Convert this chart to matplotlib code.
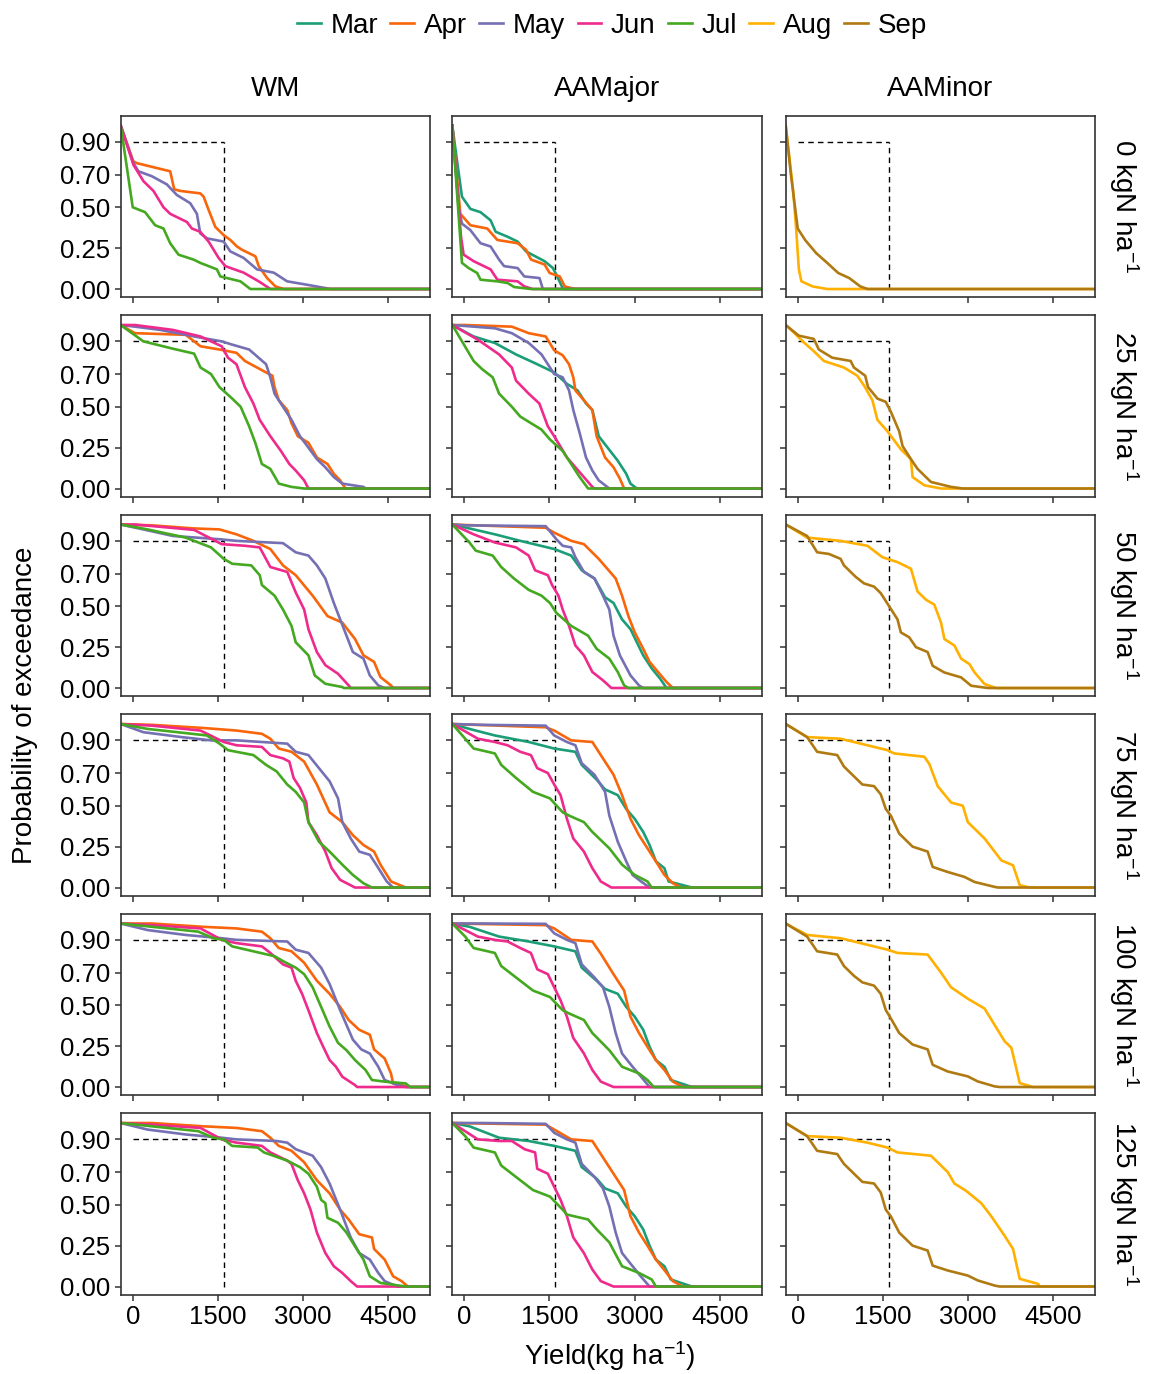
import matplotlib
matplotlib.use('Agg')
import matplotlib.pyplot as plt
from matplotlib.lines import Line2D

plt.rcParams['font.family'] = ['Liberation Sans', 'DejaVu Sans']
plt.rcParams['mathtext.fontset'] = 'custom'
plt.rcParams['mathtext.rm'] = 'Liberation Sans'
plt.rcParams['mathtext.it'] = 'Liberation Sans:italic'

# ---- data: yield (kg/ha) and exceedance probability ----
SYSTEMS = ['WM', 'AAMajor', 'AAMinor']
N_RATES = [0, 25, 50, 75, 100, 125]
MONTHS = ['Mar', 'Apr', 'May', 'Jun', 'Jul', 'Aug', 'Sep']
COLORS = ['#1B9E77', '#F8650A', '#7570B3', '#EE2A8C', '#44A820', '#FFB000', '#B07A12']
Y_TICKS = [0.00, 0.25, 0.50, 0.70, 0.90]
X_TICKS = [0, 1500, 3000, 4500]
THRESHOLD_YIELD = 1600
THRESHOLD_PROB = 0.90

# 0 kgN/ha
wm_n0 = {
    'Apr': ([12, 71, 306, 660, 731, 837, 1190, 1249, 1337, 1455, 1602, 1720, 1838, 1926, 2162, 2220, 2368, 2515, 2662],
            [.78, .77, .75, .72, .61, .60, .585, .565, .484, .38, .33, .30, .26, .24, .20, .14, .067, .016, 0]),
    'May': ([12, 100, 336, 601, 778, 1013, 1131, 1190, 1308, 1602, 1720, 1955, 2191, 2486, 2721, 3074, 3487],
            [.77, .72, .69, .64, .575, .525, .46, .34, .31, .29, .23, .19, .12, .10, .047, .026, 0]),
    'Jun': ([12, 188, 365, 542, 660, 954, 1043, 1190, 1337, 1514, 1632, 1955, 2220, 2427],
            [.76, .66, .60, .50, .46, .41, .37, .35, .29, .19, .14, .10, .047, 0]),
    'Jul': ([0, 218, 395, 542, 660, 807, 1072, 1190, 1484, 1543, 1897, 2073],
            [.50, .47, .39, .37, .28, .21, .18, .16, .12, .077, .047, 0]),
}
aamaj_n0 = {
    'Mar': ([-131, -42, 107, 285, 463, 552, 760, 939, 1087, 1414, 1562, 1651, 1740],
            [.79, .565, .49, .47, .42, .35, .32, .29, .23, .17, .128, .067, 0]),
    'Apr': ([-71, 107, 404, 582, 939, 1087, 1176, 1414, 1503, 1681, 1770, 1948],
            [.46, .39, .37, .30, .28, .24, .18, .15, .098, .077, .016, 0]),
    'May': ([-101, -42, 107, 285, 463, 612, 701, 939, 1057, 1325, 1384],
            [.50, .40, .36, .28, .26, .18, .14, .128, .077, .067, 0]),
    'Jun': ([-59, -12, 166, 285, 463, 582, 939, 1057, 1206],
            [.32, .21, .17, .15, .12, .057, .047, .016, 0]),
    'Jul': ([-42, 77, 226, 285, 582, 760, 879, 1176],
            [.16, .128, .098, .057, .047, .037, .012, 0]),
}
aamin_n0 = {
    'Aug': ([-80, -26, 20, 65, 259, 519],
            [.60, .36, .12, .047, .016, 0]),
    'Sep': ([-120, 0, 130, 324, 519, 713, 908, 1102, 1232],
            [.70, .37, .30, .22, .16, .098, .067, .016, 0]),
}

# 25 kgN/ha
wm_n25 = {
    'Apr': ([37, 933, 1194, 1529, 1828, 1977, 2350, 2462, 2499, 2574, 2723, 2798, 2909, 3096, 3245, 3432, 3544, 3655, 3730, 3760],
            [.95, .94, .87, .85, .83, .78, .71, .69, .62, .54, .48, .40, .32, .28, .19, .15, .09, .05, .01, 0]),
    'May': ([37, 485, 1082, 1567, 1753, 2052, 2350, 2425, 2499, 2648, 2798, 2947, 3096, 3245, 3394, 3544, 3693, 4066, 4103],
            [.99, .97, .93, .90, .88, .85, .76, .68, .58, .50, .42, .32, .25, .18, .13, .07, .03, .01, 0]),
    'Jun': ([37, 709, 1194, 1567, 1679, 1828, 1977, 2126, 2238, 2425, 2611, 2760, 2872, 3021, 3096],
            [1.0, .97, .93, .87, .80, .76, .62, .52, .42, .32, .23, .15, .11, .05, 0]),
    'Jul': ([187, 709, 1082, 1194, 1380, 1529, 1753, 1902, 2052, 2164, 2276, 2425, 2574, 2798, 3021],
            [.90, .855, .825, .74, .70, .62, .55, .50, .38, .275, .15, .12, .03, .01, 0]),
}
aamaj_n25 = {
    'Mar': ([164, 538, 911, 1285, 1584, 1808, 1995, 2144, 2256, 2368, 2480, 2704, 2853, 2928, 3040],
            [.93, .89, .82, .76, .71, .64, .60, .52, .48, .32, .27, .17, .09, .03, 0]),
    'Apr': ([15, 837, 1135, 1434, 1584, 1733, 1845, 1920, 1957, 2107, 2256, 2331, 2480, 2629, 2741, 2816],
            [1.0, .99, .95, .93, .845, .815, .76, .68, .60, .54, .48, .32, .19, .13, .06, 0]),
    'May': ([538, 837, 1135, 1360, 1584, 1733, 1845, 1920, 2032, 2144, 2256, 2368, 2555],
            [.98, .95, .89, .82, .70, .68, .60, .48, .34, .19, .11, .05, 0]),
    'Jun': ([239, 613, 837, 911, 1135, 1322, 1472, 1584, 1808, 1957, 2107, 2256, 2293],
            [.91, .82, .74, .66, .58, .52, .38, .32, .19, .13, .07, .01, 0]),
    'Jul': ([164, 314, 500, 613, 837, 986, 1360, 1509, 1733, 1883, 2032, 2181],
            [.78, .73, .68, .58, .50, .44, .36, .30, .23, .15, .07, 0]),
}
aamin_n25 = {
    'Aug': ([-71, 106, 283, 460, 814, 1050, 1168, 1316, 1404, 1581, 1817, 1994, 2024, 2230, 2525],
            [.955, .894, .84, .78, .74, .69, .63, .54, .42, .35, .24, .18, .07, .02, 0]),
    'Sep': ([18, 283, 372, 608, 932, 991, 1189, 1239, 1404, 1552, 1640, 1788, 1847, 1994, 2112, 2348, 2702, 2909],
            [.935, .915, .85, .80, .78, .74, .69, .62, .55, .53, .47, .35, .26, .18, .12, .04, .01, 0]),
}

# 50 kgN/ha
wm_n50 = {
    'Apr': ([336, 1082, 1529, 1828, 2126, 2425, 2648, 2872, 3170, 3432, 3693, 3917, 4066, 4253, 4365, 4551, 4588],
            [.995, .976, .97, .94, .90, .85, .75, .69, .565, .44, .40, .30, .20, .16, .067, .016, 0]),
    'May': ([187, 709, 1529, 1828, 2648, 2872, 3096, 3245, 3394, 3544, 3655, 3767, 3879, 4066, 4178, 4327, 4439],
            [.97, .93, .91, .90, .886, .83, .81, .75, .67, .52, .42, .32, .22, .18, .077, .016, 0]),
    'Jun': ([37, 1082, 1567, 1977, 2238, 2425, 2723, 2872, 3021, 3096, 3245, 3394, 3618, 3805, 3842],
            [1.0, .967, .88, .87, .86, .74, .71, .585, .48, .36, .22, .14, .087, .016, 0]),
    'Jul': ([261, 933, 1380, 1604, 1753, 2089, 2238, 2276, 2499, 2648, 2798, 2872, 3096, 3208, 3394, 3693, 3720],
            [.97, .92, .86, .79, .76, .75, .69, .63, .565, .48, .38, .28, .20, .077, .026, .006, 0]),
}
aamaj_n50 = {
    'Mar': ([164, 538, 986, 1584, 1883, 2069, 2293, 2480, 2629, 2779, 2928, 3040, 3152, 3302, 3451, 3563],
            [.97, .94, .90, .85, .81, .72, .67, .555, .52, .42, .36, .28, .20, .12, .057, 0]),
    'Apr': ([1434, 1584, 1883, 2107, 2368, 2518, 2667, 2779, 2891, 3003, 3152, 3264, 3413, 3563, 3675],
            [.98, .95, .90, .88, .79, .73, .67, .565, .44, .34, .24, .16, .098, .037, 0]),
    'May': ([15, 1434, 1621, 1733, 1883, 1957, 2107, 2293, 2443, 2555, 2629, 2741, 2928, 3078, 3152],
            [.995, .99, .91, .87, .86, .80, .71, .67, .565, .48, .32, .20, .077, .016, 0]),
    'Jun': ([164, 538, 911, 1135, 1247, 1472, 1546, 1658, 1733, 1845, 1957, 2107, 2256, 2443, 2592],
            [.94, .89, .86, .81, .72, .69, .63, .565, .48, .38, .26, .20, .098, .047, 0]),
    'Jul': ([90, 202, 500, 650, 874, 1135, 1360, 1509, 1621, 1883, 2181, 2331, 2555, 2704, 2816, 2891],
            [.89, .84, .81, .74, .67, .60, .565, .52, .46, .38, .32, .24, .18, .098, .016, 0]),
}
aamin_n50 = {
    'Aug': ([165, 755, 1227, 1493, 1758, 1994, 2112, 2260, 2407, 2525, 2584, 2761, 2879, 3027, 3115, 3292, 3499],
            [.92, .90, .87, .80, .77, .73, .59, .54, .51, .40, .30, .26, .18, .146, .096, .024, 0]),
    'Sep': ([165, 342, 549, 755, 814, 1021, 1168, 1345, 1463, 1611, 1758, 1817, 1965, 2083, 2289, 2378, 2584, 2879, 3056, 3351],
            [.93, .83, .82, .79, .75, .68, .64, .62, .58, .50, .42, .34, .31, .25, .22, .136, .095, .065, .014, 0]),
}

# 75 kgN/ha
wm_n75 = {
    'Apr': ([336, 1231, 1828, 2276, 2425, 2574, 2798, 3021, 3245, 3469, 3693, 3879, 4066, 4253, 4365, 4551, 4812],
            [.995, .976, .96, .94, .91, .85, .83, .77, .63, .46, .40, .32, .26, .22, .14, .037, 0]),
    'May': ([187, 858, 1380, 1828, 2723, 2872, 3096, 3282, 3469, 3618, 3693, 3842, 3991, 4178, 4327, 4476, 4588],
            [.95, .92, .90, .90, .88, .83, .81, .73, .65, .545, .40, .30, .22, .20, .12, .037, 0]),
    'Jun': ([336, 1194, 1604, 1828, 2276, 2425, 2648, 2760, 2835, 2947, 3059, 3096, 3245, 3394, 3506, 3655, 3917],
            [.99, .96, .89, .87, .86, .81, .79, .77, .67, .61, .52, .40, .32, .22, .118, .047, 0]),
    'Jul': ([261, 784, 1306, 1529, 1679, 2126, 2350, 2536, 2723, 2872, 3021, 3096, 3282, 3469, 3693, 3879, 4066, 4215],
            [.97, .95, .93, .88, .84, .81, .75, .71, .63, .585, .52, .40, .28, .22, .14, .077, .026, 0]),
}
aamaj_n75 = {
    'Mar': ([90, 538, 837, 1135, 1584, 1957, 2069, 2331, 2480, 2704, 2853, 3003, 3152, 3264, 3376, 3526, 3600, 4011],
            [.97, .93, .91, .89, .85, .83, .75, .66, .60, .565, .48, .42, .34, .26, .16, .118, .037, 0]),
    'Apr': ([1434, 1584, 1883, 2256, 2405, 2629, 2779, 2928, 3078, 3227, 3376, 3526, 3675, 3824],
            [.98, .96, .90, .89, .81, .69, .565, .42, .32, .24, .16, .077, .026, 0]),
    'May': ([314, 1434, 1584, 1808, 1957, 2069, 2293, 2480, 2555, 2704, 2853, 2965, 3115, 3264],
            [.995, .99, .93, .89, .87, .76, .69, .585, .44, .28, .16, .077, .037, 0]),
    'Jun': ([239, 538, 762, 986, 1173, 1285, 1472, 1584, 1696, 1808, 1920, 2107, 2256, 2405, 2592],
            [.91, .89, .87, .83, .81, .73, .70, .63, .565, .42, .30, .22, .118, .037, 0]),
    'Jul': ([15, 164, 538, 650, 911, 1210, 1509, 1733, 1845, 2107, 2256, 2555, 2779, 3003, 3227, 3302],
            [.91, .85, .82, .75, .67, .585, .545, .46, .44, .40, .34, .24, .14, .077, .037, 0]),
}
aamin_n75 = {
    'Aug': ([165, 755, 1227, 1581, 1699, 2230, 2319, 2466, 2702, 2909, 2997, 3174, 3292, 3469, 3587, 3794, 3912, 4089],
            [.92, .91, .87, .84, .82, .80, .755, .62, .52, .50, .40, .34, .30, .22, .166, .136, .014, 0]),
    'Sep': ([165, 342, 696, 814, 991, 1139, 1345, 1463, 1552, 1640, 1788, 2024, 2289, 2378, 2643, 2938, 3115, 3469, 3528],
            [.92, .83, .81, .74, .68, .63, .62, .57, .48, .44, .33, .25, .22, .126, .095, .065, .034, .004, 0]),
}

# 100 kgN/ha
wm_n100 = {
    'Apr': ([336, 1231, 1828, 2276, 2425, 2574, 2798, 3021, 3245, 3469, 3655, 3805, 3991, 4178, 4253, 4439, 4551, 4588, 4812, 4887],
            [1.0, .98, .97, .95, .91, .85, .83, .76, .65, .57, .49, .41, .35, .32, .23, .175, .083, .022, .006, 0]),
    'May': ([261, 933, 1567, 1828, 2723, 2872, 3096, 3320, 3469, 3655, 3879, 4028, 4178, 4327, 4439, 4663, 4812],
            [.96, .93, .91, .90, .89, .84, .82, .73, .63, .47, .29, .23, .205, .124, .043, .012, 0]),
    'Jun': ([336, 1194, 1567, 1828, 2276, 2425, 2648, 2798, 2872, 2984, 3096, 3245, 3357, 3469, 3581, 3693, 3917, 3954],
            [.99, .97, .90, .88, .86, .82, .75, .73, .65, .57, .47, .33, .246, .165, .124, .063, .012, 0]),
    'Jul': ([336, 1156, 1417, 1604, 1753, 2126, 2499, 2648, 2872, 3021, 3170, 3320, 3469, 3618, 3767, 3917, 4103, 4215, 4439, 4812, 4887],
            [.98, .95, .91, .90, .86, .83, .80, .77, .73, .69, .61, .49, .37, .27, .225, .165, .104, .043, .033, .022, 0]),
}
aamaj_n100 = {
    'Mar': ([90, 613, 1135, 1584, 1957, 2069, 2331, 2480, 2704, 2853, 3003, 3152, 3264, 3376, 3526, 3638, 4011],
            [.98, .92, .89, .86, .83, .73, .65, .60, .57, .49, .43, .35, .246, .165, .124, .043, 0]),
    'Apr': ([1434, 1584, 1883, 2256, 2405, 2629, 2816, 2928, 3078, 3227, 3376, 3526, 3675, 3862],
            [.99, .97, .90, .89, .815, .69, .59, .43, .33, .246, .165, .104, .033, 0]),
    'May': ([314, 1434, 1584, 1808, 1957, 2069, 2293, 2443, 2555, 2667, 2779, 2965, 3115, 3264],
            [1.0, .998, .94, .90, .88, .75, .67, .61, .49, .33, .205, .124, .063, 0]),
    'Jun': ([239, 538, 762, 986, 1173, 1285, 1472, 1584, 1696, 1808, 1920, 2107, 2256, 2405, 2629],
            [.92, .90, .89, .85, .82, .72, .69, .61, .53, .43, .30, .205, .104, .033, 0]),
    'Jul': ([15, 164, 538, 650, 911, 1210, 1509, 1733, 1845, 2107, 2256, 2555, 2779, 3078, 3227, 3339],
            [.92, .85, .82, .74, .67, .59, .55, .47, .45, .41, .33, .225, .124, .083, .043, 0]),
}
aamin_n100 = {
    'Aug': ([165, 755, 1227, 1581, 1758, 2289, 2525, 2702, 2997, 3292, 3469, 3646, 3764, 3823, 3912, 4148],
            [.93, .91, .87, .84, .82, .81, .70, .61, .54, .48, .38, .28, .24, .156, .024, 0]),
    'Sep': ([165, 342, 696, 814, 991, 1139, 1345, 1463, 1552, 1640, 1788, 2024, 2289, 2378, 2643, 2997, 3174, 3469, 3558],
            [.92, .83, .81, .74, .68, .64, .62, .57, .47, .42, .33, .26, .23, .136, .095, .065, .034, .004, 0]),
}

# 125 kgN/ha
wm_n125 = {
    'Apr': ([336, 1231, 1828, 2276, 2425, 2574, 2798, 3021, 3245, 3469, 3655, 3805, 3991, 4215, 4253, 4439, 4588, 4737, 4850],
            [1.0, .98, .97, .95, .91, .86, .83, .76, .65, .57, .47, .41, .32, .30, .23, .165, .063, .033, 0]),
    'May': ([261, 933, 1567, 1828, 2536, 2723, 2872, 3170, 3320, 3469, 3655, 3842, 3991, 4178, 4327, 4439, 4663],
            [.96, .93, .91, .90, .89, .88, .84, .80, .73, .63, .47, .30, .205, .165, .083, .033, 0]),
    'Jun': ([336, 1194, 1567, 1828, 2276, 2425, 2723, 2798, 2909, 3021, 3133, 3245, 3394, 3544, 3693, 3842, 3954],
            [.99, .97, .90, .88, .86, .82, .77, .75, .65, .57, .47, .33, .205, .124, .083, .033, 0]),
    'Jul': ([336, 1156, 1417, 1604, 1753, 2201, 2313, 2723, 2947, 3096, 3245, 3320, 3394, 3432, 3618, 3767, 3917, 4066, 4178, 4365, 4812],
            [.98, .95, .91, .90, .86, .85, .82, .77, .73, .69, .61, .53, .51, .42, .39, .33, .246, .165, .063, .022, 0]),
}
aamaj_n125 = {
    'Mar': ([90, 613, 1135, 1584, 1957, 2069, 2331, 2480, 2704, 2853, 3003, 3152, 3264, 3376, 3526, 3638, 4011],
            [.98, .91, .89, .86, .83, .73, .66, .60, .57, .49, .43, .35, .25, .165, .124, .043, 0]),
    'Apr': ([1434, 1584, 1883, 2256, 2405, 2629, 2816, 2928, 3078, 3227, 3376, 3526, 3675, 3850],
            [.99, .96, .90, .89, .81, .69, .59, .43, .33, .25, .165, .10, .033, 0]),
    'May': ([314, 1434, 1584, 1808, 1957, 2069, 2293, 2443, 2555, 2667, 2779, 2965, 3115, 3264],
            [1.0, .995, .94, .90, .88, .75, .67, .60, .49, .33, .205, .124, .06, 0]),
    'Jun': ([239, 613, 837, 1060, 1247, 1285, 1472, 1584, 1696, 1808, 1920, 2107, 2256, 2405, 2629],
            [.90, .89, .89, .84, .82, .72, .69, .61, .53, .43, .30, .205, .104, .033, 0]),
    'Jul': ([15, 164, 538, 650, 911, 1210, 1509, 1733, 1808, 2181, 2331, 2555, 2779, 3078, 3302, 3376],
            [.92, .85, .82, .74, .67, .59, .55, .47, .44, .41, .35, .27, .124, .083, .043, 0]),
}
aamin_n125 = {
    'Aug': ([165, 755, 1227, 1581, 1758, 2348, 2643, 2761, 2968, 3233, 3410, 3528, 3646, 3794, 3912, 4236, 4266],
            [.92, .91, .88, .85, .82, .80, .70, .63, .585, .51, .43, .37, .31, .23, .047, .016, 0]),
    'Sep': ([165, 342, 696, 814, 991, 1139, 1345, 1463, 1552, 1640, 1788, 2024, 2289, 2378, 2643, 2997, 3174, 3469, 3558],
            [.92, .83, .81, .75, .69, .64, .63, .575, .47, .43, .33, .25, .22, .128, .098, .067, .037, .006, 0]),
}

panels = [
    [wm_n0, aamaj_n0, aamin_n0],
    [wm_n25, aamaj_n25, aamin_n25],
    [wm_n50, aamaj_n50, aamin_n50],
    [wm_n75, aamaj_n75, aamin_n75],
    [wm_n100, aamaj_n100, aamin_n100],
    [wm_n125, aamaj_n125, aamin_n125],
]

# ---- layout (pixels of the 1150x1374 canvas) ----
W, H = 1150, 1374
COL_LEFT = [120.7, 452.3, 785.7]
PANEL_W = 309.5
ROW_TOP0, ROW_STEP, PANEL_H = 115.7, 199.5, 181.5
XLIM = (-212, 5242)
YLIM = (-0.05, 1.06)
FRAME = '#333333'
LW = 1.9

fig = plt.figure(figsize=(W / 100, H / 100), dpi=100)

for r, row in enumerate(panels):
    top = ROW_TOP0 + r * ROW_STEP
    for c, curves in enumerate(row):
        ax = fig.add_axes([COL_LEFT[c] / W, 1 - (top + PANEL_H) / H, PANEL_W / W, PANEL_H / H])
        ax.set_xlim(*XLIM)
        ax.set_ylim(*YLIM)

        # threshold box (dashed)
        ax.plot([0, THRESHOLD_YIELD], [THRESHOLD_PROB, THRESHOLD_PROB], color='black',
                lw=1.0, dashes=(4, 3), zorder=1)
        ax.plot([THRESHOLD_YIELD, THRESHOLD_YIELD], [0, THRESHOLD_PROB], color='black',
                lw=1.0, dashes=(4, 3), zorder=1)

        for m, col in zip(MONTHS, COLORS):
            if m not in curves:
                continue
            xs, ps = curves[m]
            # curves run from p=1 at the left edge to p=0 at the right edge
            ax.plot([XLIM[0]] + xs + [XLIM[1]], [1.0] + ps + [0.0],
                    color=col, lw=LW, zorder=2)

        ax.set_yticks(Y_TICKS)
        ax.set_xticks(X_TICKS)
        ax.tick_params(direction='out', length=4.5, width=1.1, color=FRAME,
                       labelsize=18.5, pad=3)
        if c == 0:
            ax.set_yticklabels(['%.2f' % t for t in Y_TICKS])
        else:
            ax.set_yticklabels([])
        if r == len(panels) - 1:
            ax.set_xticklabels([str(t) for t in X_TICKS])
        else:
            ax.set_xticklabels([])
        for sp in ax.spines.values():
            sp.set_color(FRAME)
            sp.set_linewidth(1.2)

        if r == 0:
            fig.text((COL_LEFT[c] + PANEL_W / 2) / W, 1 - 89 / H, SYSTEMS[c],
                     ha='center', va='center', fontsize=20)

    fig.text(1124 / W, 1 - (top + PANEL_H / 2) / H, '%d kgN ha$^{-1}$' % N_RATES[r],
             rotation=270, ha='center', va='center', fontsize=20)

fig.text(25 / W, 1 - 705 / H, 'Probability of exceedance', rotation=90,
         ha='center', va='center', fontsize=20)
fig.text(610 / W, 1 - 1356 / H, 'Yield(kg ha$^{-1}$)', ha='center', va='center', fontsize=20)

handles = [Line2D([], [], color=col, lw=LW) for col in COLORS]
fig.legend(handles, MONTHS, loc='center', bbox_to_anchor=(612 / W, 1 - 26 / H), ncol=7,
           frameon=False, fontsize=20, handlelength=0.85, handletextpad=0.35,
           columnspacing=0.45, borderpad=0, borderaxespad=0)

fig.savefig('out.png', dpi=100)
